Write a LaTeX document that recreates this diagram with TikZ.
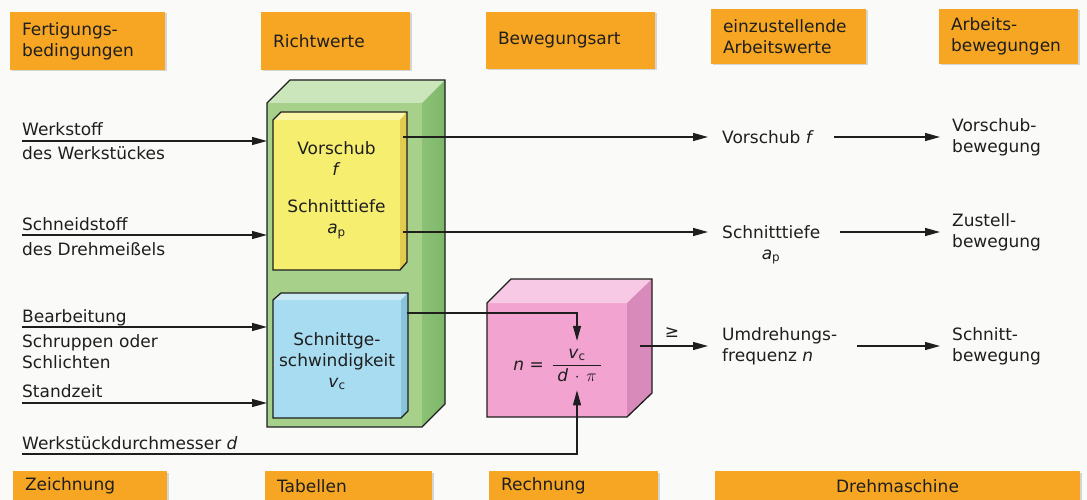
\documentclass[tikz,border=0pt]{standalone}
\usepackage{fontspec}
\setmainfont{DejaVu Sans}
\usetikzlibrary{arrows.meta,calc,shadows}
\definecolor{bg}{HTML}{FAFAF8}
\definecolor{org}{HTML}{F6A623}
\definecolor{greenF}{HTML}{A7D18B}
\definecolor{greenT}{HTML}{CBE6BA}
\definecolor{greenS}{HTML}{8CC276}
\definecolor{greenS2}{HTML}{7DB66A}
\definecolor{yelF}{HTML}{F6EE6E}
\definecolor{yelT}{HTML}{FBF5A6}
\definecolor{yelS}{HTML}{E2CC4E}
\definecolor{bluF}{HTML}{A8DCF0}
\definecolor{bluT}{HTML}{CBEAF6}
\definecolor{bluS}{HTML}{88C4DC}
\definecolor{pnkF}{HTML}{F3A3D0}
\definecolor{pnkT}{HTML}{F8C9E4}
\definecolor{pnkS}{HTML}{D88ABA}
\definecolor{ink}{HTML}{1E1E1E}
\begin{document}
\begin{tikzpicture}[x=1pt,y=-1pt,
  every node/.style={font=\fontsize{17}{21}\selectfont, text=ink},
  hdr/.style={fill=org, drop shadow={shadow xshift=1.5pt, shadow yshift=-1.5pt, opacity=0.3}, inner xsep=12pt, inner ysep=0pt, align=left},
  arr/.style={draw=ink, line width=1.3pt, -{Triangle[length=15pt,width=8pt]}},
  lbl/.style={inner sep=0pt, anchor=base west},
  face/.style={inner sep=0pt, outer sep=0pt, minimum width=#1},
  sil/.style={draw=ink, line width=1.3pt, line join=miter},
  rtxt/.style={anchor=west, inner ysep=0pt, align=left},
]
\path[use as bounding box, clip] (0,0) rectangle (1087,500);
\fill[bg] (0,0) rectangle (1087,500);

% header boxes
\node[hdr, text width=131pt, minimum height=58pt] (h1) at (87.5,41) {Fertigungs-\\bedingungen};
\node[hdr, text width=125pt, minimum height=58pt] (h2) at (335.5,41) {Richtwerte};
\node[hdr, text width=145pt, minimum height=57pt] (h3) at (570.5,40.5) {Bewegungsart};
\node[hdr, text width=131pt, minimum height=55pt] (h4) at (788.5,36.5) {einzustellende\\Arbeitswerte};
\node[hdr, text width=115pt, minimum height=55pt] (h5) at (1008.5,36.5) {Arbeits-\\bewegungen};

% bottom boxes
\node[hdr, text width=130pt, minimum height=30pt] (b1) at (90,486) {Zeichnung};
\node[hdr, text width=143pt, minimum height=30pt] (b2) at (348.5,486) {Tabellen};
\node[hdr, text width=145pt, minimum height=30pt] (b3) at (573.5,486) {Rechnung};
\node[hdr, text width=341pt, minimum height=30pt, align=center] (b4) at (897.5,486) {Drehmaschine};

% green cuboid
\node[face=155pt, minimum height=324pt, fill=greenF] (green) at (344.5,265) {};
\fill[greenT] (267,103) -- (290,80) -- (445,80) -- (422,103) -- cycle;
\shade[left color=greenS, right color=greenS2] (422,103) -- (445,80) -- (445,404) -- (422,427) -- cycle;
\draw[sil] (267,427) -- (267,103) -- (290,80) -- (445,80) -- (445,404) -- (422,427) -- cycle;

% yellow cuboid
\node[face=127pt, minimum height=150pt, fill=yelF] (yellow) at (336.5,195) {};
\fill[yelT] (273,120) -- (281,112) -- (407,112) -- (400,120) -- cycle;
\fill[yelS] (400,120) -- (407,112) -- (407,262) -- (400,270) -- cycle;
\draw[sil] (273,270) -- (273,120) -- (281,112) -- (407,112) -- (407,262) -- (400,270) -- cycle;
\node[align=center, inner sep=0pt] (ytxt) at (336.5,190) {Vorschub\\\textit{f}\\[16pt]Schnitttiefe\\\textit{a}\textsubscript{p}};

% blue cuboid
\node[face=128pt, minimum height=118pt, fill=bluF] (blue) at (337,359) {};
\fill[bluT] (273,300) -- (281,293) -- (408,293) -- (401,300) -- cycle;
\fill[bluS] (401,300) -- (408,293) -- (408,411) -- (401,418) -- cycle;
\draw[sil] (273,418) -- (273,300) -- (281,293) -- (408,293) -- (408,411) -- (401,418) -- cycle;
\node[align=center, inner sep=0pt] (btxt) at (337,361) {Schnittge-\\schwindigkeit\\\textit{v}\textsubscript{c}};

% pink cuboid
\node[face=140pt, minimum height=114pt, fill=pnkF] (pink) at (557,360) {};
\fill[pnkT] (487,303) -- (511,279) -- (652,279) -- (627,303) -- cycle;
\fill[pnkS] (627,303) -- (652,279) -- (652,393) -- (627,417) -- cycle;
\draw[sil] (487,417) -- (487,303) -- (511,279) -- (652,279) -- (652,393) -- (627,417) -- cycle;
\node[anchor=base east, inner sep=0pt] (neq) at (544,370) {\textit{n} =};
\node[anchor=base, inner xsep=0pt, inner ysep=8pt] (frac) at (577,370) {$\displaystyle\frac{\textit{v}\textsubscript{c}}{\;\textit{d}\,\cdot\,\pi\;}$};

% left labels
\node[lbl] (l1) at (22,136) {Werkstoff};
\node[lbl] (l2) at (22,160) {des Werkstückes};
\node[lbl] (l3) at (22,230) {Schneidstoff};
\node[lbl] (l4) at (22,255) {des Drehmeißels};
\node[lbl] (l5) at (22,322) {Bearbeitung};
\node[lbl] (l6) at (22,347) {Schruppen oder};
\node[lbl] (l7) at (22,368) {Schlichten};
\node[lbl] (l8) at (22,397) {Standzeit};
\node[lbl] (l9) at (22,449) {Werkstückdurchmesser \textit{d}};
\coordinate (in1) at (22,141);
\coordinate (in2) at (22,235);
\coordinate (in3) at (22,327);
\coordinate (in4) at (22,403);
\coordinate (in5) at (22,454);

% middle-right column
\node[rtxt, inner xsep=14pt] (vf) at (708,137) {Vorschub \textit{f}};
\node[rtxt, inner xsep=14pt] (st) at (708,232) {Schnitttiefe};
\node[lbl, anchor=base] (ap) at (771,259) {\textit{a}\textsubscript{p}};
\node[rtxt, inner xsep=14pt] (ud) at (708,346) {Umdrehungs-\\frequenz \textit{n}};
\node[inner sep=0pt] (ge) at (672,333) {≥};

% right column
\node[rtxt, inner xsep=12pt] (r1) at (940,137) {Vorschub-\\bewegung};
\node[rtxt, inner xsep=12pt] (r2) at (940,232) {Zustell-\\bewegung};
\node[rtxt, inner xsep=12pt] (r3) at (940,346) {Schnitt-\\bewegung};

% connectors
\draw[arr] (in1) -- (in1 -| green.west);
\draw[arr] (in2) -- (in2 -| green.west);
\draw[arr] (in3) -- (in3 -| green.west);
\draw[arr] (in4) -- (in4 -| green.west);
\draw[arr] (in5) -| (frac.south);
\draw[arr] ($(blue.north east)+(6,13)$) -| (frac.north);
\draw[arr] ($(yellow.east |- vf.west)+(3,0)$) -- (vf.west);
\draw[arr] ($(yellow.east |- st.west)+(3,0)$) -- (st.west);
\draw[arr] ($(pink.east |- ud.west)+(13,0)$) -- (ud.west);
\draw[arr] ([xshift=6pt]vf.east) -- (r1.west);
\draw[arr] ([xshift=6pt]st.east) -- (r2.west);
\draw[arr] ([xshift=6pt]ud.east) -- (r3.west);
\end{tikzpicture}
\end{document}
